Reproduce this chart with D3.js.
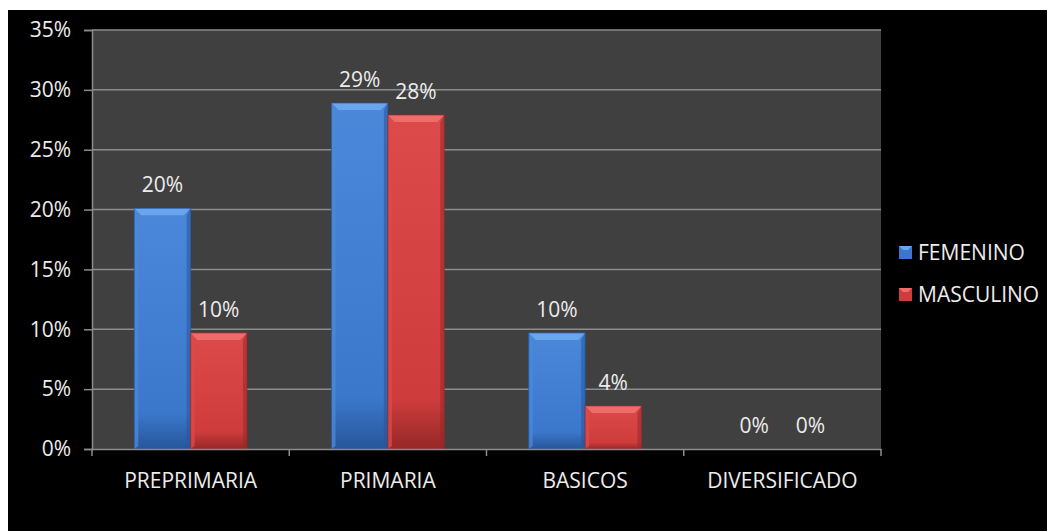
<!DOCTYPE html>
<html>
<head>
<meta charset="utf-8">
<script src="https://cdn.jsdelivr.net/npm/d3@7"></script>
<style>
  html, body { margin: 0; padding: 0; background: #ffffff; }
  svg { display: block; }
  text { font-family: "Open Sans", sans-serif; fill: #ececec; }
</style>
</head>
<body>
<svg id="chart" width="1047" height="531"></svg>
<script>
// Education level by sex
const categories = ["PREPRIMARIA", "PRIMARIA", "BASICOS", "DIVERSIFICADO"];
const seriesNames = ["FEMENINO", "MASCULINO"];
const femenino = [0.201, 0.289, 0.097, 0];
const masculino = [0.097, 0.279, 0.036, 0];
const yTicks = [0, 0.05, 0.10, 0.15, 0.20, 0.25, 0.30, 0.35];

const seriesValues = [femenino, masculino];
const palette = {
  FEMENINO:  { main: "#3b78cc", light: "#6aa6ee", dark: "#27569a", side: "#4b88da" },
  MASCULINO: { main: "#cf3c3c", light: "#f06c6c", dark: "#962828", side: "#dc4a4a" }
};

const svg = d3.select("#chart");
const W = 1047, H = 531;
const plot = { left: 92, right: 881, top: 30, bottom: 449 };

// black chart frame
svg.append("rect").attr("x", 8).attr("y", 10).attr("width", W - 8).attr("height", H - 10).attr("fill", "#000");

const x = d3.scaleBand().domain(categories).range([plot.left, plot.right]).paddingInner(0).paddingOuter(0);
// gap width 150% of a bar
const groupFrac = 2 / 3.5;
const x1 = d3.scaleBand().domain(seriesNames)
  .range([0, x.bandwidth() * groupFrac]);
const groupOffset = (x.bandwidth() * (1 - groupFrac)) / 2;
const y = d3.scaleLinear().domain([0, 0.35]).range([plot.bottom, plot.top]);

// plot background
svg.append("rect")
  .attr("x", plot.left).attr("y", plot.top)
  .attr("width", plot.right - plot.left).attr("height", plot.bottom - plot.top)
  .attr("fill", "#404040");

// gradients for bar faces
const defs = svg.append("defs");
seriesNames.forEach(name => {
  const c = palette[name];
  const g = defs.append("linearGradient").attr("id", "face-" + name)
    .attr("x1", 0).attr("x2", 0).attr("y1", 0).attr("y2", 1);
  g.append("stop").attr("offset", "0%").attr("stop-color", c.side);
  g.append("stop").attr("offset", "85%").attr("stop-color", c.main);
  g.append("stop").attr("offset", "100%").attr("stop-color", c.dark);
});

// y gridlines
const yAxis = d3.axisLeft(y).tickValues(yTicks).tickFormat(d3.format(".0%"))
  .tickSize(8).tickPadding(13);
const gy = svg.append("g").attr("transform", `translate(${plot.left},0)`).call(yAxis);
gy.select(".domain").attr("stroke", "#8c8c8c").attr("stroke-width", 1.5);
gy.selectAll(".tick line").attr("stroke", "#8c8c8c").attr("stroke-width", 1.5);
gy.selectAll(".tick text").attr("font-size", 21).attr("fill", "#ececec")
  .attr("font-family", "'Open Sans', sans-serif");

svg.append("g").selectAll("line").data(yTicks.filter(d => d > 0)).join("line")
  .attr("x1", plot.left).attr("x2", plot.right)
  .attr("y1", d => y(d)).attr("y2", d => y(d))
  .attr("stroke", "#8c8c8c").attr("stroke-width", 1.5);

// bars with bevelled top
const bars = [];
categories.forEach((cat, i) => {
  seriesNames.forEach((name, s) => {
    bars.push({ cat, name, value: seriesValues[s][i] });
  });
});

const gBars = svg.append("g");
bars.forEach(d => {
  if (d.value <= 0) return;
  const c = palette[d.name];
  const bx = x(d.cat) + groupOffset + x1(d.name);
  const bw = x1.bandwidth();
  const by = y(d.value);
  const bh = y(0) - by;
  const b = Math.min(7, bh / 2);
  const g = gBars.append("g");
  g.append("rect").attr("x", bx).attr("y", by).attr("width", bw).attr("height", bh)
    .attr("fill", `url(#face-${d.name})`);
  // left and right edges
  g.append("polygon")
    .attr("points", [[bx, by], [bx + 4, by + b], [bx + 4, by + bh - 3], [bx, by + bh]].join(" "))
    .attr("fill", c.side).attr("opacity", 0.8);
  g.append("polygon")
    .attr("points", [[bx + bw, by], [bx + bw - 4, by + b], [bx + bw - 4, by + bh - 3], [bx + bw, by + bh]].join(" "))
    .attr("fill", c.dark).attr("opacity", 0.55);
  // top bevel
  g.append("polygon")
    .attr("points", [[bx, by], [bx + bw, by], [bx + bw - b, by + b], [bx + b, by + b]].join(" "))
    .attr("fill", c.light);
  g.append("rect").attr("x", bx).attr("y", by).attr("width", bw).attr("height", bh)
    .attr("fill", "none").attr("stroke", c.dark).attr("stroke-width", 1).attr("stroke-opacity", 0.7);
});

// data labels
svg.append("g").selectAll("text").data(bars).join("text")
  .attr("x", d => x(d.cat) + groupOffset + x1(d.name) + x1.bandwidth() / 2)
  .attr("y", d => y(d.value) - 16)
  .attr("text-anchor", "middle")
  .attr("font-size", 21)
  .text(d => d3.format(".0%")(d.value));

// x axis
const xAxis = d3.axisBottom(x).tickSize(0).tickPadding(0).tickFormat("");
const gx = svg.append("g").attr("transform", `translate(0,${plot.bottom})`).call(xAxis);
gx.select(".domain").attr("stroke", "#8c8c8c").attr("stroke-width", 1.5);
// category boundary ticks
const bounds = categories.map(c => x(c)).concat([plot.right]);
gx.selectAll(".bound").data(bounds).join("line").attr("class", "bound")
  .attr("x1", d => d).attr("x2", d => d).attr("y1", 0).attr("y2", 7)
  .attr("stroke", "#8c8c8c").attr("stroke-width", 1.5);
svg.append("g").selectAll("text").data(categories).join("text")
  .attr("x", d => x(d) + x.bandwidth() / 2)
  .attr("y", 488)
  .attr("text-anchor", "middle")
  .attr("font-size", 21)
  .text(d => d);

// legend
const legend = svg.append("g");
seriesNames.forEach((name, i) => {
  const c = palette[name];
  const ly = 246 + i * 42;
  const gl = legend.append("g");
  gl.append("rect").attr("x", 899).attr("y", ly).attr("width", 13).attr("height", 13).attr("fill", c.main);
  gl.append("polygon").attr("points", [[899, ly], [912, ly], [908, ly + 4], [903, ly + 4]].join(" "))
    .attr("fill", c.light);
  gl.append("text").attr("x", 918).attr("y", ly + 14).attr("font-size", 21).text(name);
});
</script>
</body>
</html>
